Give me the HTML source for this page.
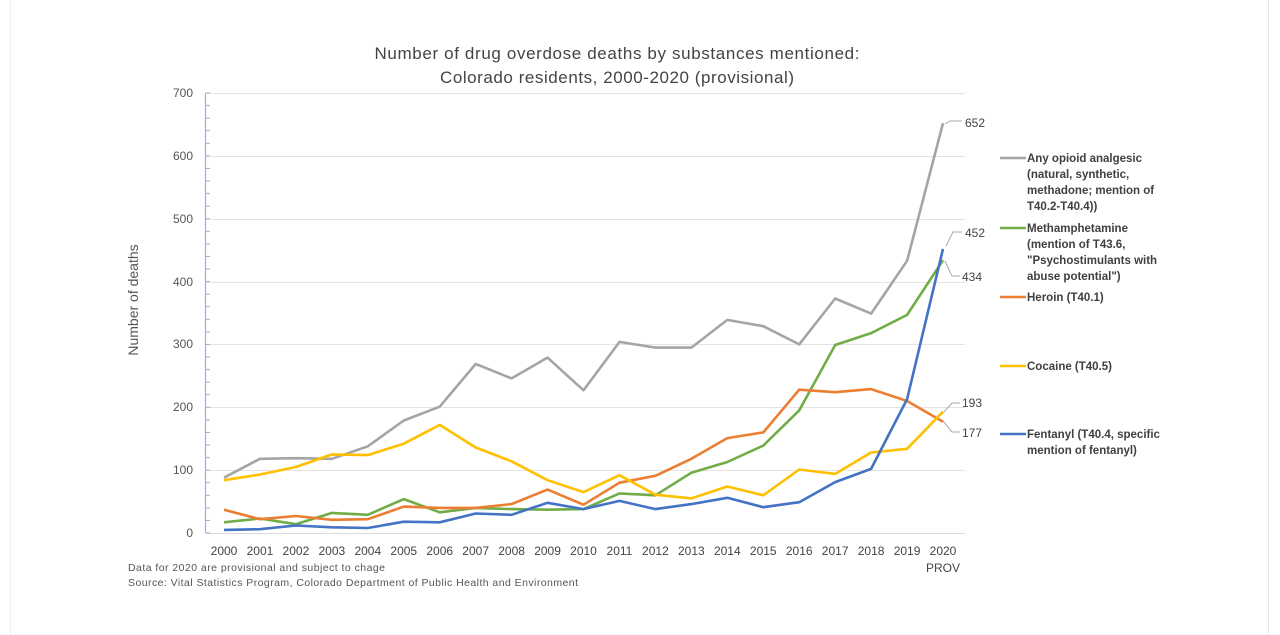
<!DOCTYPE html>
<html><head><meta charset="utf-8"><style>
body{margin:0;background:#fff;}
svg{display:block;font-family:"Liberation Sans",sans-serif;}
</style></head><body>
<svg width="1280" height="635" viewBox="0 0 1280 635">
<rect width="1280" height="635" fill="#fff"/>
<line x1="10.5" y1="0" x2="10.5" y2="635" stroke="#eee"/>
<line x1="1268.5" y1="0" x2="1268.5" y2="635" stroke="#e6e6e6"/>
<text x="617" y="59" text-anchor="middle" font-size="17" fill="#444" textLength="485">Number of drug overdose deaths by substances mentioned:</text>
<text x="617" y="83" text-anchor="middle" font-size="17" fill="#444" textLength="354">Colorado residents, 2000-2020 (provisional)</text>
<g stroke="#e4e4e4" stroke-width="1">
<line x1="206" y1="93.5" x2="965" y2="93.5"/><line x1="206" y1="156.5" x2="965" y2="156.5"/>
<line x1="206" y1="219.5" x2="965" y2="219.5"/><line x1="206" y1="282.5" x2="965" y2="282.5"/>
<line x1="206" y1="344.5" x2="965" y2="344.5"/><line x1="206" y1="407.5" x2="965" y2="407.5"/>
<line x1="206" y1="470.5" x2="965" y2="470.5"/>
</g>
<line x1="206" y1="533.5" x2="965" y2="533.5" stroke="#d9d9d9"/>
<line x1="205.5" y1="93" x2="205.5" y2="533" stroke="#8fb4de" stroke-width="1.2"/>
<g id="ticks" stroke="#8fb4de" stroke-width="1"></g>
<g font-size="12" fill="#555" text-anchor="end">
<text x="193" y="97">700</text><text x="193" y="160">600</text><text x="193" y="223">500</text>
<text x="193" y="286">400</text><text x="193" y="348">300</text><text x="193" y="411">200</text>
<text x="193" y="474">100</text><text x="193" y="537">0</text>
</g>
<text transform="translate(138,300) rotate(-90)" text-anchor="middle" font-size="14" fill="#555">Number of deaths</text>
<g id="xl" font-size="12" fill="#444" text-anchor="middle"></g>
<text x="943" y="572" text-anchor="middle" font-size="12" fill="#444">PROV</text>
<text x="128" y="571" font-size="10.5" fill="#555" textLength="257">Data for 2020 are provisional and subject to chage</text>
<text x="128" y="586" font-size="10.5" fill="#555" textLength="450">Source: Vital Statistics Program, Colorado Department of Public Health and Environment</text>
<g id="series" fill="none" stroke-width="2.6" stroke-linejoin="round"></g>
<g stroke="#aaa" fill="none" stroke-width="1">
<polyline points="945,124 950,121 962,121"/>
<polyline points="946,246 953,232 962,232"/>
<polyline points="945,261 952,276 960,276"/>
<polyline points="944,412 952,403 960,403"/>
<polyline points="943,421 952,432 960,432"/>
</g>
<g font-size="12" fill="#444">
<text x="965" y="127">652</text><text x="965" y="237">452</text><text x="962" y="281">434</text>
<text x="962" y="407">193</text><text x="962" y="437">177</text>
</g>
<g stroke-width="2.6">
<line x1="1000" y1="158" x2="1026" y2="158" stroke="#a5a5a5"/>
<line x1="1000" y1="228" x2="1026" y2="228" stroke="#70ad47"/>
<line x1="1000" y1="297" x2="1026" y2="297" stroke="#ed7d31"/>
<line x1="1000" y1="366" x2="1026" y2="366" stroke="#ffc000"/>
<line x1="1000" y1="434" x2="1026" y2="434" stroke="#4472c4"/>
</g>
<g font-size="11.5" fill="#404040" font-weight="bold">
<text x="1027" y="162">Any opioid analgesic</text><text x="1027" y="178">(natural, synthetic,</text>
<text x="1027" y="194">methadone; mention of</text><text x="1027" y="210">T40.2-T40.4))</text>
<text x="1027" y="232">Methamphetamine</text><text x="1027" y="248">(mention of T43.6,</text>
<text x="1027" y="264">"Psychostimulants with</text><text x="1027" y="280">abuse potential")</text>
<text x="1027" y="301">Heroin (T40.1)</text>
<text x="1027" y="370">Cocaine (T40.5)</text>
<text x="1027" y="438">Fentanyl (T40.4, specific</text><text x="1027" y="454">mention of fentanyl)</text>
</g>
</svg>
<script>
const x0=224,dx=35.95,y0=533,k=0.6286;
const ns="http://www.w3.org/2000/svg";
const t=document.getElementById('ticks');
for(let v=0;v<=700;v+=20){const l=document.createElementNS(ns,'line');const y=y0-v*k;l.setAttribute('x1',205.5);l.setAttribute('x2',210);l.setAttribute('y1',y);l.setAttribute('y2',y);t.appendChild(l);}
const xl=document.getElementById('xl');
for(let i=0;i<=20;i++){const e=document.createElementNS(ns,'text');e.setAttribute('x',x0+i*dx);e.setAttribute('y',555);e.textContent=2000+i;xl.appendChild(e);}
const S=[
["#a5a5a5",[88,118,119,118,138,179,201,269,246,279,227,304,295,295,339,329,300,373,349,433,652]],
["#70ad47",[17,23,14,32,29,54,33,40,38,37,38,63,60,96,113,139,195,299,318,347,434]],
["#ed7d31",[37,22,27,21,22,42,40,40,46,69,45,80,91,118,151,160,228,224,229,210,177]],
["#ffc000",[84,93,105,125,124,142,172,136,114,84,65,92,61,55,74,60,101,94,128,134,193]],
["#4472c4",[5,6,12,9,8,18,17,31,29,48,38,51,38,46,56,41,49,81,102,213,452]]];
const g=document.getElementById('series');
S.forEach(([c,d])=>{const p=document.createElementNS(ns,'polyline');p.setAttribute('points',d.map((v,i)=>(x0+i*dx).toFixed(1)+','+(y0-v*k).toFixed(1)).join(' '));p.setAttribute('stroke',c);g.appendChild(p);});
</script>
</body></html>
